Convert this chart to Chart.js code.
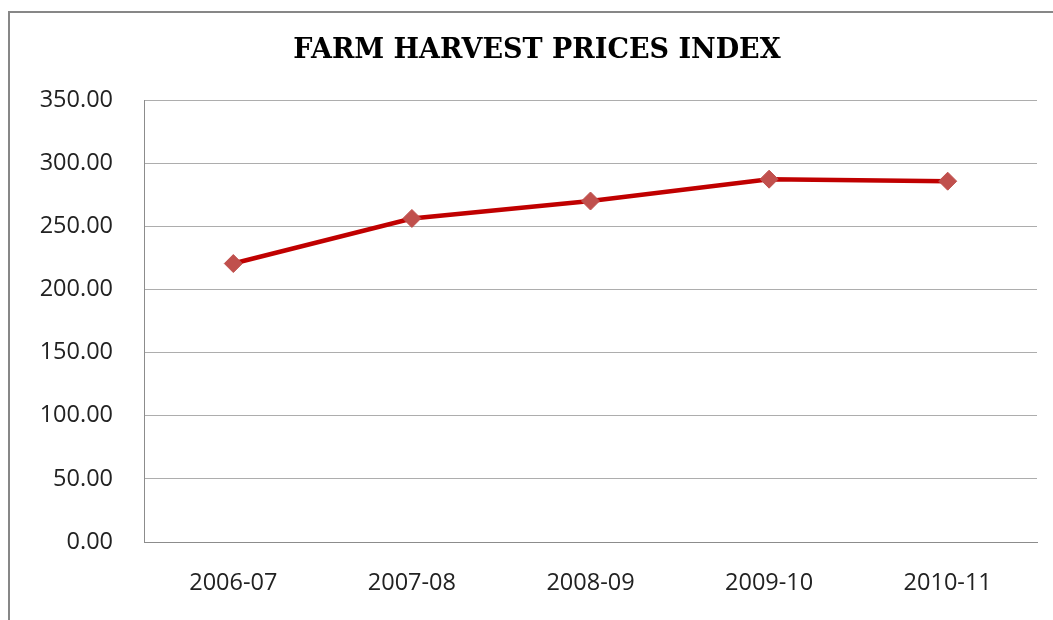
<!DOCTYPE html>
<html>
<head>
<meta charset="utf-8">
<script src="https://cdn.jsdelivr.net/npm/chart.js@4/dist/chart.umd.min.js"></script>
<style>
  html, body { margin: 0; padding: 0; background: #fff; overflow: hidden; }
  #wrap { position: relative; width: 1053px; height: 620px; }
  #frame {
    position: absolute; left: 8px; top: 11px; width: 1200px; height: 800px;
    border-left: 2px solid #878787; border-top: 2px solid #878787;
    pointer-events: none;
  }
  canvas { position: absolute; left: 0; top: 0; }
</style>
</head>
<body>
<div id="wrap">
  <canvas id="priceChart" width="1053" height="620"></canvas>
  <div id="frame"></div>
</div>
<script>
const years = ['2006-07', '2007-08', '2008-09', '2009-10', '2010-11'];
const priceIndex = [220.5, 256.2, 270.0, 287.3, 285.7];
const yTicks = [0, 50, 100, 150, 200, 250, 300, 350];
const chartTitle = 'FARM HARVEST PRICES INDEX';

const tickFont = { family: 'Open Sans', size: 23.5 };

// title is centred on the outer frame, not on the canvas, so draw it here
const framedTitle = {
    id: 'framedTitle',
    afterDraw: function (chart) {
        const c = chart.ctx;
        c.save();
        c.font = 'bold 27px "DejaVu Serif"';
        c.fillStyle = '#000';
        c.textAlign = 'center';
        c.textBaseline = 'middle';
        c.fillText(chartTitle, 537, 51);
        c.restore();
    }
};

const ctx = document.getElementById('priceChart').getContext('2d');
const priceChart = new Chart(ctx, {
    type: 'line',
    data: {
        labels: years,
        datasets: [{
            data: priceIndex,
            borderColor: '#C00000',
            borderWidth: 4.5,
            tension: 0,
            pointStyle: 'rectRot',
            pointRadius: 9,
            pointBorderWidth: 1,
            pointBackgroundColor: '#C0504D',
            pointBorderColor: '#C0504D'
        }]
    },
    options: {
        responsive: false,
        animation: false,
        layout: { padding: { top: 100, right: 16, bottom: 0, left: 0 } },
        scales: {
            x: {
                offset: true,
                grid: { display: false, drawTicks: false },
                border: { display: true, color: '#8C8C8C', width: 1 },
                ticks: { color: '#222', font: tickFont, padding: 27 },
                afterFit: function (scale) { scale.height = 78; }
            },
            y: {
                min: 0,
                max: 350,
                afterBuildTicks: function (scale) {
                    scale.ticks = yTicks.map(v => ({ value: v }));
                },
                grid: { color: '#ADADAD', lineWidth: 1, drawTicks: false },
                border: { display: true, color: '#8C8C8C', width: 1 },
                ticks: {
                    color: '#222',
                    font: tickFont,
                    padding: 31,
                    callback: function (v) { return Number(v).toFixed(2); }
                },
                afterFit: function (scale) { scale.width = 144; }
            }
        },
        plugins: {
            legend: { display: false },
            tooltip: { enabled: false },
            title: { display: false }
        }
    },
    plugins: [framedTitle]
});
</script>
</body>
</html>
